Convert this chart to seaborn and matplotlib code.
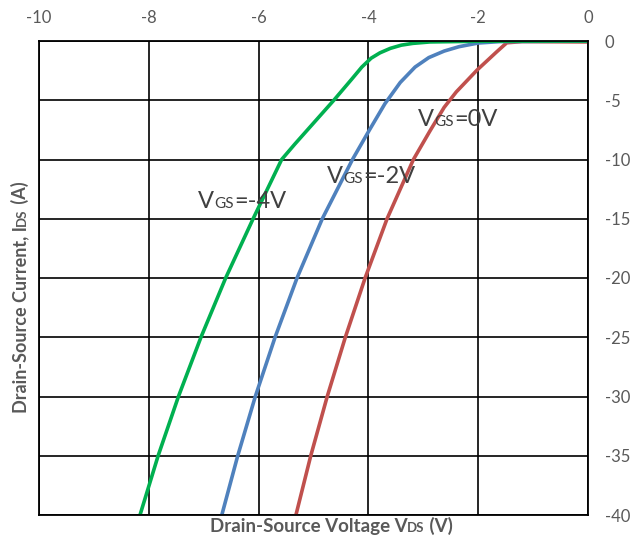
import matplotlib
matplotlib.use("Agg")
import matplotlib.pyplot as plt
from matplotlib.transforms import offset_copy
import pandas as pd
import seaborn as sns

# Drain-source voltage (V) and drain current (A) for each gate bias
vds_vgs0 = [-5.32, -5.05, -4.75, -4.42, -4.06, -3.66, -3.18, -2.88, -2.62, -2.40, -2.02, -1.66, -1.48, -1.20, 0.0]
ids_vgs0 = [-40, -35, -30, -25, -20, -15, -10, -7.6, -5.6, -4.3, -2.45, -0.9, -0.15, -0.05, -0.08]

vds_vgs2 = [-6.67, -6.38, -6.06, -5.70, -5.30, -4.84, -4.29, -3.98, -3.70, -3.42, -3.15, -2.90, -2.62, -2.35, -2.00, -1.60, 0.0]
ids_vgs2 = [-40, -35, -30, -25, -20, -15, -10, -7.5, -5.3, -3.5, -2.2, -1.4, -0.85, -0.48, -0.17, -0.05, 0.0]

vds_vgs4 = [-8.16, -7.83, -7.46, -7.05, -6.60, -6.10, -5.84, -5.58, -5.34, -4.63, -4.30, -4.12, -3.95, -3.79,
            -3.60, -3.40, -3.19, -2.88, -2.00, 0.0]
ids_vgs4 = [-40, -35, -30, -25, -20, -15, -12.5, -10, -8.7, -5.0, -3.2, -2.2, -1.45, -1.0,
            -0.62, -0.35, -0.2, -0.08, -0.02, 0.0]

curve_names = ["VGS=0V", "VGS=-2V", "VGS=-4V"]
x_ticks = [-10, -8, -6, -4, -2, 0]
y_ticks = [0, -5, -10, -15, -20, -25, -30, -35, -40]

colors = {"VGS=0V": "#C0504D", "VGS=-2V": "#4F81BD", "VGS=-4V": "#00B050"}

frames = []
for name, xs, ys in zip(curve_names,
                        [vds_vgs0, vds_vgs2, vds_vgs4],
                        [ids_vgs0, ids_vgs2, ids_vgs4]):
    frames.append(pd.DataFrame({"vds": xs, "ids": ys, "curve": name}))
df = pd.concat(frames, ignore_index=True)

sns.set_theme(style="white")
plt.rcParams["font.family"] = ["Lato", "DejaVu Sans"]

fig = plt.figure(figsize=(6.41, 5.39), dpi=100)
ax = fig.add_axes([39 / 641, 1 - 515 / 539, 549 / 641, 474 / 539])

sns.lineplot(data=df, x="vds", y="ids", hue="curve", palette=colors,
             hue_order=curve_names, sort=False, estimator=None,
             linewidth=2.6, legend=False, ax=ax)
for line in ax.get_lines():
    line.set_solid_joinstyle("round")

ax.set_xlim(-10, 0)
ax.set_ylim(-40, 0)
ax.set_xticks(x_ticks)
ax.set_yticks(y_ticks)
ax.set_xticklabels([str(v) for v in x_ticks])
ax.set_yticklabels([str(v) for v in y_ticks])
ax.xaxis.tick_top()
ax.yaxis.tick_right()
ax.tick_params(axis="x", length=0, labelsize=12, labelcolor="#595959", pad=11)
ax.tick_params(axis="y", length=0, labelsize=12, labelcolor="#595959", pad=12)
ax.set_axisbelow(True)
ax.grid(True, color="black", linewidth=1.2)
ax.set_xlabel("")
ax.set_ylabel("")
for sp in ax.spines.values():
    sp.set_visible(True)
    sp.set_color("black")
    sp.set_linewidth(1.3)

renderer = fig.canvas.get_renderer()


def rich_text(x, y, parts, transform, rotation=0, center=False, **kw):
    """Place text pieces of different sizes side by side on one baseline."""
    texts = []
    for s, size in parts:
        t = fig.text(0, 0, s, fontsize=size, ha="left", va="baseline",
                     rotation=rotation, rotation_mode="anchor", **kw)
        texts.append(t)
    lengths = []
    for t in texts:
        bb = t.get_window_extent(renderer)
        lengths.append(bb.height if rotation else bb.width)
    offset = -sum(lengths) / 2 if center else 0.0
    for t, length in zip(texts, lengths):
        if rotation:
            t.set_transform(offset_copy(transform, fig=fig, x=0, y=offset, units="dots"))
        else:
            t.set_transform(offset_copy(transform, fig=fig, x=offset, y=0, units="dots"))
        t.set_position((x, y))
        offset += length
    return texts


label_kw = dict(color="#595959", fontweight="bold")
rich_text(331 / 641, 1 - 532 / 539,
          [("Drain-Source Voltage V", 13.5), ("DS", 9.5), (" (V)", 13.5)],
          fig.transFigure, center=True, **label_kw)
rich_text(26 / 641, 1 - 297 / 539,
          [("Drain-Source Current, I", 13), ("DS", 9.5), (" (A)", 13)],
          fig.transFigure, rotation=90, center=True, **label_kw)

note_kw = dict(color="#404040")
rich_text(-3.09, -7.2, [("V", 17), ("GS", 11), ("=0V", 17)], ax.transData, **note_kw)
rich_text(-4.75, -12.0, [("V", 17), ("GS", 11), ("=-2V", 17)], ax.transData, **note_kw)
rich_text(-7.10, -14.1, [("V", 17), ("GS", 11), ("=-4V", 17)], ax.transData, **note_kw)

fig.savefig("out.png", dpi=100)
